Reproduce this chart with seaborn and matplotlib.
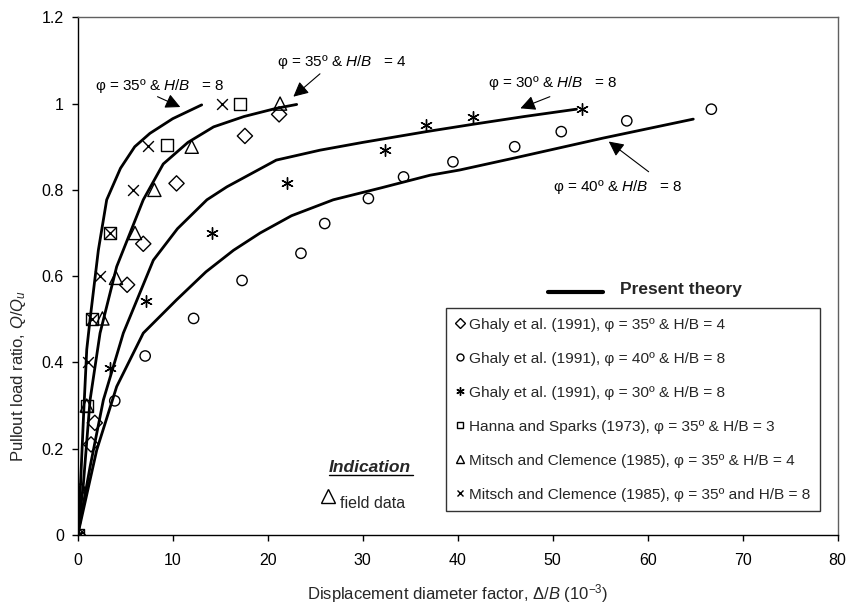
import numpy as np
import pandas as pd
import matplotlib
matplotlib.use("Agg")
import matplotlib.pyplot as plt
import seaborn as sns
from matplotlib.lines import Line2D

# ---------------- data ----------------
# Present theory curves
theory_a_x = [0, 0.3, 0.6, 0.95, 1.3, 2.17, 3.05, 4.5, 6.0, 7.6, 10.0, 13.05]
theory_a_y = [0, 0.12, 0.27, 0.43, 0.50, 0.66, 0.777, 0.85, 0.90, 0.931, 0.965, 0.997]
theory_b_x = [0, 0.6, 1.3, 2.35, 4.1, 6.9, 9.0, 11.6, 14.3, 17.5, 20.9, 23.05]
theory_b_y = [0, 0.12, 0.313, 0.468, 0.622, 0.777, 0.86, 0.91, 0.946, 0.97, 0.989, 0.998]
theory_c_x = [0, 1.3, 2.7, 4.8, 7.96, 10.5, 13.6, 15.7, 20.9, 25.5, 30.0, 36.7, 41.6, 47.0, 52.5]
theory_c_y = [0, 0.158, 0.313, 0.468, 0.637, 0.71, 0.777, 0.807, 0.869, 0.892, 0.91, 0.935, 0.952, 0.97, 0.987]
theory_d_x = [0, 2.0, 4.1, 6.9, 10.4, 13.5, 16.4, 19.2, 22.5, 26.9, 32.0, 37.1, 40.2, 46.0, 55.3, 64.8]
theory_d_y = [0, 0.197, 0.344, 0.468, 0.545, 0.61, 0.66, 0.70, 0.74, 0.777, 0.805, 0.834, 0.846, 0.874, 0.92, 0.964]

# Experimental data
ghaly35_x = [0, 1.4, 1.8, 5.2, 6.9, 10.4, 17.6, 21.2]
ghaly35_y = [0, 0.21, 0.26, 0.58, 0.675, 0.815, 0.925, 0.975]
ghaly40_x = [0.2, 3.9, 7.1, 12.2, 17.3, 23.5, 26.0, 30.6, 34.3, 39.5, 46.0, 50.9, 57.8, 66.7]
ghaly40_y = [0.106, 0.311, 0.415, 0.502, 0.59, 0.653, 0.722, 0.78, 0.83, 0.865, 0.90, 0.935, 0.96, 0.987]
ghaly30_x = [0, 3.4, 7.2, 14.1, 22.0, 32.3, 36.7, 41.6, 53.05]
ghaly30_y = [0, 0.386, 0.543, 0.70, 0.815, 0.892, 0.95, 0.97, 0.987]
hanna_x = [0, 0.95, 1.47, 3.4, 9.4, 17.1]
hanna_y = [0, 0.30, 0.50, 0.70, 0.904, 1.0]
mitsch4_x = [0, 0.95, 2.6, 4.03, 6.03, 8.07, 12.0, 21.3]
mitsch4_y = [0, 0.30, 0.502, 0.596, 0.70, 0.80, 0.90, 1.0]
mitsch8_x = [0, 1.1, 1.47, 2.35, 3.4, 5.8, 7.4, 15.2]
mitsch8_y = [0, 0.40, 0.50, 0.60, 0.70, 0.80, 0.902, 0.999]

x_ticks = [0, 10, 20, 30, 40, 50, 60, 70, 80]
y_ticks = [0, 0.2, 0.4, 0.6, 0.8, 1.0, 1.2]
y_tick_labels = ["0", "0.2", "0.4", "0.6", "0.8", "1", "1.2"]

legend_labels = [
    "Ghaly et al. (1991), \u03c6 = 35\u00ba & H/B = 4",
    "Ghaly et al. (1991), \u03c6 = 40\u00ba & H/B = 8",
    "Ghaly et al. (1991), \u03c6 = 30\u00ba & H/B = 8",
    "Hanna and Sparks (1973), \u03c6 = 35\u00ba & H/B = 3",
    "Mitsch and Clemence (1985), \u03c6 = 35\u00ba & H/B = 4",
    "Mitsch and Clemence (1985), \u03c6 = 35\u00ba and H/B = 8",
]

# ---------------- style ----------------
sns.set_style("ticks")
plt.rcParams["font.family"] = ["Liberation Sans", "DejaVu Sans"]
plt.rcParams["mathtext.fontset"] = "custom"
plt.rcParams["mathtext.rm"] = "Liberation Sans"
plt.rcParams["mathtext.it"] = "Liberation Sans:italic"

fig = plt.figure(figsize=(8.56, 6.07), dpi=100)
ax = fig.add_axes([0.0908, 0.1186, 0.8878, 0.8529])

curves = [(theory_a_x, theory_a_y), (theory_b_x, theory_b_y),
          (theory_c_x, theory_c_y), (theory_d_x, theory_d_y)]
for cx, cy in curves:
    df = pd.DataFrame({"x": cx, "y": cy})
    sns.lineplot(data=df, x="x", y="y", sort=False, estimator=None,
                 color="black", linewidth=2.0, ax=ax)

series = [
    (ghaly35_x, ghaly35_y, "D", 60),
    (ghaly40_x, ghaly40_y, "o", 55),
    (ghaly30_x, ghaly30_y, (6, 2, 0), 70),
    (hanna_x, hanna_y, "s", 75),
    (mitsch4_x, mitsch4_y, "^", 90),
    (mitsch8_x, mitsch8_y, "x", 60),
]
for sx, sy, mk, sz in series:
    df = pd.DataFrame({"x": sx, "y": sy})
    if mk in ("D", "o", "s", "^"):
        sns.scatterplot(data=df, x="x", y="y", marker=mk, s=sz,
                        facecolor="none", edgecolor="black", linewidth=1.0, ax=ax)
    else:
        sns.scatterplot(data=df, x="x", y="y", marker=mk, s=sz,
                        color="black", linewidth=1.0, ax=ax)

ax.set_xlim(0, 80)
ax.set_ylim(0, 1.2)
ax.set_xticks(x_ticks)
ax.set_xticklabels([str(t) for t in x_ticks])
ax.set_yticks(y_ticks)
ax.set_yticklabels(y_tick_labels)
ax.tick_params(axis="both", direction="out", length=4, width=1, colors="black",
               labelsize=11.5)
ax.tick_params(axis="x", pad=9)
ax.tick_params(axis="y", pad=6)
for side in ["left", "bottom"]:
    ax.spines[side].set_color("black")
    ax.spines[side].set_linewidth(1.0)
for side in ["top", "right"]:
    ax.spines[side].set_visible(True)
    ax.spines[side].set_color("#606060")
    ax.spines[side].set_linewidth(1.0)

ax.set_xlabel(r"Displacement diameter factor, $\mathit{\Delta/B}$ (10$^{-3}$)", fontsize=12)
ax.set_ylabel(r"Pullout load ratio, $Q/Q_u$", fontsize=12)
ax.xaxis.set_label_coords(0.5, -0.090)
ax.yaxis.set_label_coords(-0.065, 0.307)

# annotations
ann_kw = dict(fontsize=11, color="black")
arrow_kw = dict(arrowstyle="-|>,head_length=0.9,head_width=0.45", color="black", lw=0.8,
                shrinkA=0, shrinkB=0)
annotations = [
    ("\u03c6 = 35\u00ba & $\\mathit{H/B}$   = 8", (1.8, 1.041), (8.4, 1.016), (10.8, 0.992)),
    ("\u03c6 = 35\u00ba & $\\mathit{H/B}$   = 4", (20.95, 1.097), (25.5, 1.069), (22.7, 1.016)),
    ("\u03c6 = 30\u00ba & $\\mathit{H/B}$   = 8", (43.2, 1.048), (49.7, 1.016), (46.6, 0.989)),
    ("\u03c6 = 40\u00ba & $\\mathit{H/B}$   = 8", (50.0, 0.807), (60.1, 0.842), (55.9, 0.912)),
]
for txt, tpos, tail, tip in annotations:
    ax.text(tpos[0], tpos[1], txt, ha="left", va="center", **ann_kw)
    ax.annotate("", xy=tip, xytext=tail, arrowprops=arrow_kw)

# Present theory key
ax.plot([49.5, 55.3], [0.564, 0.564], color="black", lw=3)
ax.text(57.1, 0.568, "Present theory", fontsize=12.5, fontweight="bold", va="center", ha="left")

# Indication
ax.text(26.4, 0.157, "Indication", fontsize=12.5, fontweight="heavy", fontstyle="italic",
        va="center", ha="left")
ax.plot([26.4, 35.3], [0.139, 0.139], color="black", lw=1)
ax.plot([26.3], [0.09], marker="^", markersize=10, markerfacecolor="none",
        markeredgecolor="black", linestyle="none")
ax.text(27.6, 0.074, "field data", fontsize=11.5, va="center", ha="left")

# legend
handles = [
    Line2D([], [], marker="D", markersize=5, markerfacecolor="none", markeredgecolor="black", linestyle="none"),
    Line2D([], [], marker="o", markersize=5, markerfacecolor="none", markeredgecolor="black", linestyle="none"),
    Line2D([], [], marker=(6, 2, 0), markersize=6, color="black", linestyle="none"),
    Line2D([], [], marker="s", markersize=5, markerfacecolor="none", markeredgecolor="black", linestyle="none"),
    Line2D([], [], marker="^", markersize=6, markerfacecolor="none", markeredgecolor="black", linestyle="none"),
    Line2D([], [], marker="x", markersize=5, color="black", linestyle="none"),
]
leg = ax.legend(handles, legend_labels, loc="upper left", bbox_to_anchor=(0.4846, 0.438),
                frameon=True, fancybox=False, edgecolor="black", fontsize=11.1,
                labelspacing=1.3, handlelength=0.6, handletextpad=0.3,
                borderpad=0.6, borderaxespad=0.0)
leg.get_frame().set_linewidth(1.0)

fig.savefig("out.png", dpi=100)
